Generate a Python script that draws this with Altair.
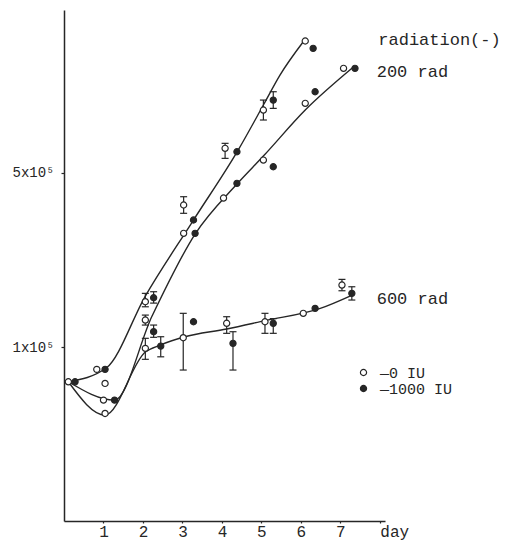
import altair as alt
import pandas as pd

FONT = "Liberation Mono"
INK = "#262626"

# ---------- measured points (cells / ml, log axis) ----------
pt_group = ["radiation(-)"] * 14 + ["200 rad"] * 15 + ["600 rad"] * 13
pt_iu = (["0 IU", "1000 IU"] * 7
         + ["0 IU", "1000 IU", "0 IU"] + ["0 IU", "1000 IU"] * 6
         + ["0 IU"] + ["0 IU", "1000 IU"] * 6)
pt_day = ([0.11, 0.28, 0.83, 1.04, 2.06, 2.27, 3.03, 3.28, 4.08, 4.38, 5.05, 5.30, 6.11, 6.31]
          + [1.00, 1.28, 1.04, 2.06, 2.27, 3.03, 3.32, 4.04, 4.38, 5.05, 5.30, 6.11, 6.36, 7.08, 7.37]
          + [1.04, 2.06, 2.45, 3.02, 3.28, 4.12, 4.28, 5.09, 5.30, 6.06, 6.36, 7.04, 7.29])
pt_cells = ([72600, 72600, 81400, 81400, 152000, 157600, 370700, 322800, 625200, 606000,
             890300, 976000, 1683000, 1573000]
            + [61300, 61300, 71500, 128300, 115200, 285500, 285500, 395400, 452700, 561000,
               527700, 947000, 1054000, 1308000, 1308000]
            + [54200, 98800, 100900, 109000, 126300, 124500, 103500, 126300, 124500, 136500,
               142900, 177200, 164100])
N = None
pt_lo = ([N, N, N, N, 145000, 150000, 343400, N, 570000, N, 812000, 904000, N, N]
         + [N, N, N, 122500, 109400, N, N, N, N, N, N, N, N, N, N]
         + [N, 89300, 91400, 80900, N, 113500, 80900, 113500, 113500, N, N, 168100, 154300])
pt_hi = ([N, N, N, N, 164100, 166600, 400200, N, 654800, N, 976000, 1054000, N, N]
         + [N, N, N, 134300, 122500, N, N, N, N, N, N, N, N, N, N]
         + [N, 108400, 110000, 136500, N, 132300, 115200, 136500, 130000, N, N, 186700, 174400])

# ---------- hand-drawn fitted curves ----------
cv_rad_day = [0.11, 1.07, 2.06, 3.28, 4.41, 5.05, 5.47, 6.06]
cv_rad_cells = [72600, 82400, 160100, 322800, 615000, 932400, 1229000, 1672000]
cv_200_day = [0.11, 1.28, 2.23, 3.32, 4.38, 5.05, 6.11, 7.30]
cv_200_cells = [72600, 61300, 133100, 283600, 449800, 582400, 890300, 1311000]
cv_600_day = [0.11, 1.04, 2.06, 2.44, 3.04, 4.12, 5.09, 6.49, 7.30]
cv_600_cells = [72600, 53400, 95500, 101900, 109700, 118100, 127600, 142900, 161600]

# ---------- series labels ----------
lab_text = ["radiation(-)", "200 rad", "600 rad"]
lab_day = [7.96, 7.92, 7.92]
lab_cells = [1622000, 1210000, 148300]

# ---------- tables ----------
points = pd.DataFrame({"group": pt_group, "iu": pt_iu, "day": pt_day,
                       "cells": pt_cells, "lo": pt_lo, "hi": pt_hi})
errs = points.dropna(subset=["lo", "hi"])
curves = pd.DataFrame({
    "group": ["radiation(-)"] * len(cv_rad_day) + ["200 rad"] * len(cv_200_day)
             + ["600 rad"] * len(cv_600_day),
    "day": cv_rad_day + cv_200_day + cv_600_day,
    "cells": cv_rad_cells + cv_200_cells + cv_600_cells,
})
labels = pd.DataFrame({"text": lab_text, "day": lab_day, "cells": lab_cells})

xscale = alt.Scale(domain=[0, 8.13], nice=False, zero=False)
yscale = alt.Scale(type="log", domain=[20100, 2240000], nice=False)

xaxis = alt.Axis(values=[1, 2, 3, 4, 5, 6, 7, 8],
                 labelExpr="datum.value == 8 ? 'day' : datum.label",
                 labelAlign={"condition": {"test": "datum.value == 8", "value": "left"},
                             "value": "center"},
                 title=None, grid=False, domainColor=INK, domainWidth=1.5,
                 tickColor=INK, tickSize=2, tickWidth=1.2,
                 labelFont=FONT, labelFontSize=16, labelColor=INK, labelPadding=0,
                 labelBaseline="top")
yaxis = alt.Axis(values=[100000, 500000],
                 labelExpr="datum.value == 100000 ? '1x10⁵' : '5x10⁵'",
                 title=None, grid=False, domainColor=INK, domainWidth=1.5,
                 tickColor=INK, tickSize=3, tickWidth=1.2,
                 labelFont=FONT, labelFontSize=14, labelColor=INK, labelPadding=7)

X = alt.X("day:Q", scale=xscale, axis=xaxis)
Y = alt.Y("cells:Q", scale=yscale, axis=yaxis)

lines = alt.Chart(curves).mark_line(interpolate="monotone", color=INK, strokeWidth=1.4).encode(
    x=X, y=Y, detail="group:N")

bars = alt.Chart(errs).mark_rule(color=INK, strokeWidth=1.2).encode(
    x="day:Q", y="lo:Q", y2="hi:Q")
cap_lo = alt.Chart(errs).mark_tick(orient="horizontal", color=INK, size=7, thickness=1.2,
                                   opacity=1).encode(x="day:Q", y="lo:Q")
cap_hi = alt.Chart(errs).mark_tick(orient="horizontal", color=INK, size=7, thickness=1.2,
                                   opacity=1).encode(x="day:Q", y="hi:Q")

pts = alt.Chart(points).mark_point(shape="circle", size=38, filled=True, stroke=INK,
                                   strokeWidth=1.2, opacity=1).encode(
    x="day:Q", y="cells:Q",
    fill=alt.Fill("iu:N", scale=alt.Scale(domain=["0 IU", "1000 IU"], range=["white", INK]),
                  legend=alt.Legend(title=None, orient="none", legendX=292, legendY=355,
                                    symbolType="circle", symbolSize=38,
                                    symbolStrokeColor=INK, symbolStrokeWidth=1.2,
                                    labelFont=FONT, labelFontSize=15, labelColor=INK,
                                    labelExpr="'—' + datum.label", labelOffset=9,
                                    rowPadding=0, padding=0)))

texts = alt.Chart(labels).mark_text(align="left", baseline="alphabetic", font=FONT,
                                    fontSize=17, color=INK).encode(
    x="day:Q", y="cells:Q", text="text:N")

chart = alt.layer(lines, bars, cap_lo, cap_hi, pts, texts).properties(
    width=321, height=511,
    padding={"left": 64, "top": 10, "right": 120, "bottom": 20},
    autosize=alt.AutoSizeParams(type="none"),
    background="white",
).configure_view(stroke=None)

chart.save("out.html", embed_options={"renderer": "svg", "actions": False})
